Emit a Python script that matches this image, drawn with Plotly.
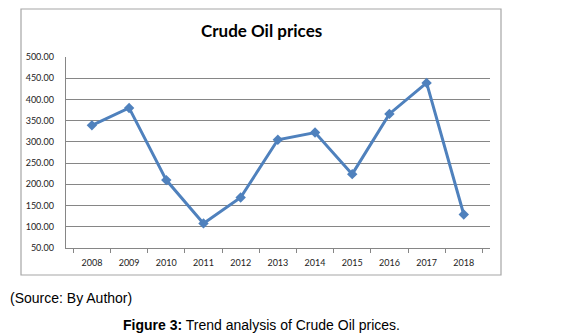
import plotly.graph_objects as go

years = ["2008", "2009", "2010", "2011", "2012", "2013", "2014", "2015", "2016", "2017", "2018"]
prices = [339, 380, 210, 108, 169, 305, 322, 224, 366, 439, 129]
y_ticks = [50, 100, 150, 200, 250, 300, 350, 400, 450, 500]

# page body has an 8px default margin; size the figure to fill the rest
OFF = 8
W, H = 570 - OFF, 336 - OFF
def px_x(v):
    return (v - OFF) / W
def px_y(v):
    return 1 - (v - OFF) / H

fig = go.Figure()
fig.add_trace(go.Scatter(
    x=years, y=prices, mode="lines+markers",
    line=dict(color="#4f81bd", width=3),
    marker=dict(symbol="diamond", size=8, color="#4f81bd"),
    showlegend=False,
))

fig.update_layout(
    width=W, height=H, autosize=False,
    margin=dict(l=0, r=0, t=0, b=0),
    paper_bgcolor="white", plot_bgcolor="white",
    font=dict(family="Lato", color="#222222"),
    xaxis=dict(
        domain=[px_x(65.7), px_x(490)],
        automargin=False,
        type="category", tickson="boundaries",
        showgrid=False, showline=True, linecolor="#868686", linewidth=1,
        ticks="outside", ticklen=4, tickcolor="#868686",
        tickfont=dict(size=9, family="Lato", color="#222222"),
        ticklabelstandoff=6,
        fixedrange=True,
    ),
    yaxis=dict(
        domain=[px_y(248), px_y(57)],
        automargin=False,
        range=[50, 500], tickvals=y_ticks, tickformat=".2f",
        showgrid=True, gridcolor="#868686", gridwidth=1,
        showline=True, linecolor="#868686", linewidth=1,
        ticks="", zeroline=False,
        tickfont=dict(size=9, family="Lato", color="#222222"),
        ticklabelstandoff=9,
        fixedrange=True,
    ),
    shapes=[dict(
        type="rect", xref="paper", yref="paper",
        x0=px_x(21), x1=px_x(501), y0=px_y(275), y1=px_y(9),
        line=dict(color="#a6a6a6", width=1.2), fillcolor="rgba(0,0,0,0)",
        layer="below",
    )],
    annotations=[
        dict(text="<b>Crude Oil prices</b>", xref="paper", yref="paper",
             x=px_x(261), y=px_y(31), xanchor="center", yanchor="middle",
             showarrow=False, font=dict(size=17, family="Lato", color="#000000")),
        dict(text="(Source: By Author)", xref="paper", yref="paper",
             x=px_x(8), y=px_y(298), xanchor="left", yanchor="middle",
             showarrow=False, font=dict(size=14, family="Liberation Sans", color="#000000")),
        dict(text="<b>Figure 3:</b> Trend analysis of Crude Oil prices.", xref="paper", yref="paper",
             x=px_x(261), y=px_y(325), xanchor="center", yanchor="middle",
             showarrow=False, font=dict(size=14, family="Liberation Sans", color="#000000")),
    ],
)

fig.write_html("out.html")
